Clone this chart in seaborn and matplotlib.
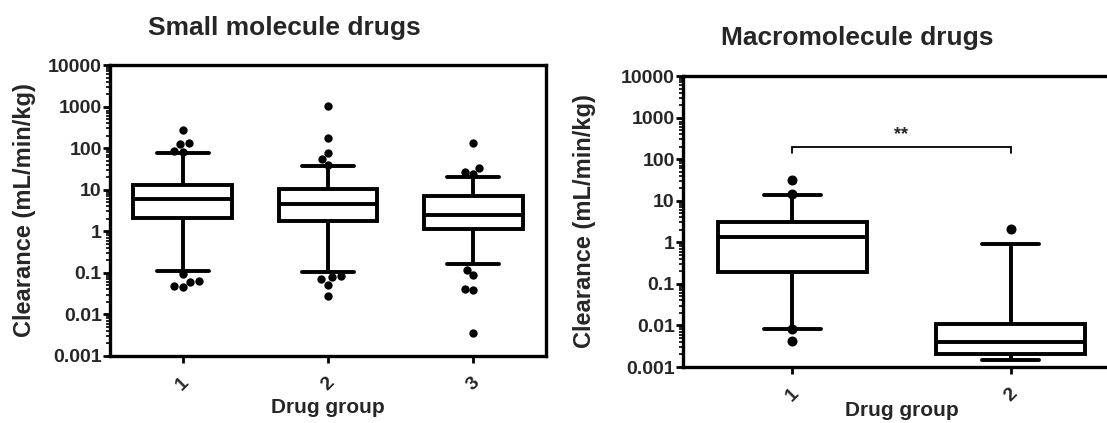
import numpy as np
import pandas as pd
import matplotlib
matplotlib.use("Agg")
import matplotlib.pyplot as plt
import seaborn as sns
from matplotlib.ticker import FixedLocator, FixedFormatter, LogLocator, NullFormatter

# ---------------- data ----------------
small_groups = ["1", "2", "3"]
small_q1 = [2.1, 1.8, 1.15]
small_median = [6.0, 4.6, 2.5]
small_q3 = [13.0, 10.5, 7.2]
small_whisker_low = [0.11, 0.105, 0.16]
small_whisker_high = [78, 38, 20]
small_outliers_1 = [275, 132, 128, 85, 82, 0.095, 0.060, 0.046, 0.049, 0.062]
small_outliers_2 = [1050, 175, 75, 55, 40, 0.085, 0.070, 0.052, 0.078, 0.028]
small_outliers_3 = [135, 34, 26, 24, 0.12, 0.088, 0.042, 0.038, 0.0035]

macro_groups = ["1", "2"]
macro_q1 = [0.19, 0.0021]
macro_median = [1.36, 0.0041]
macro_q3 = [3.0, 0.0106]
macro_whisker_low = [0.0083, 0.00148]
macro_whisker_high = [14, 0.89]
macro_outliers_1 = [32, 14.5, 0.0081, 0.0043]
macro_outliers_2 = [2.1]

y_ticks = [0.001, 0.01, 0.1, 1, 10, 100, 1000, 10000]
y_tick_labels = ["0.001", "0.01", "0.1", "1", "10", "100", "1000", "10000"]
sig_label = "**"
sig_y = 200
sig_drop = 140
sig_text_y = 400

title_small = "Small molecule drugs"
title_macro = "Macromolecule drugs"
x_label = "Drug group"
y_label = "Clearance (mL/min/kg)"

# ---------------- style ----------------
sns.set_theme(style="ticks")
plt.rcParams["font.family"] = ["Liberation Sans", "DejaVu Sans"]
plt.rcParams["font.weight"] = "bold"
plt.rcParams["axes.labelweight"] = "bold"

W, H = 1107, 423
fig = plt.figure(figsize=(W / 100, H / 100), dpi=100)

LW = 2.8


def panel(ax, groups, q1, med, q3, wlo, whi, outliers, capw, dot):
    ax.set_yscale("log")
    df = pd.DataFrame({
        "group": [g for g, vals in zip(groups, outliers) for _ in vals],
        "clearance": [v for vals in outliers for v in vals],
    })
    sns.swarmplot(data=df, x="group", y="clearance", order=groups,
                  color="black", size=dot, ax=ax, zorder=5, linewidth=0)
    stats = [dict(q1=a, med=m, q3=b, whislo=lo, whishi=hi, fliers=[])
             for a, m, b, lo, hi in zip(q1, med, q3, wlo, whi)]
    ax.bxp(stats, positions=list(range(len(groups))), widths=0.68,
           capwidths=capw, showfliers=False, patch_artist=True,
           manage_ticks=False,
           boxprops=dict(facecolor="white", edgecolor="black", linewidth=LW),
           whiskerprops=dict(color="black", linewidth=LW, solid_capstyle="butt"),
           capprops=dict(color="black", linewidth=LW, solid_capstyle="round"),
           medianprops=dict(color="black", linewidth=LW, solid_capstyle="butt"))
    ax.set_xlim(-0.5, len(groups) - 0.5)
    ax.set_ylim(0.001, 10000)
    ax.yaxis.set_major_locator(FixedLocator(y_ticks))
    ax.yaxis.set_major_formatter(FixedFormatter(y_tick_labels))
    ax.yaxis.set_minor_locator(LogLocator(base=10, subs=np.arange(2, 10), numticks=30))
    ax.yaxis.set_minor_formatter(NullFormatter())
    ax.set_xticks(range(len(groups)))
    ax.set_xticklabels(groups, rotation=45, ha="center", fontsize=14, fontweight="bold")
    for lab in ax.get_yticklabels():
        lab.set_fontsize(14)
        lab.set_fontweight("bold")
    ax.tick_params(axis="y", which="major", direction="out", length=5, width=2.0,
                   color="black", pad=1)
    ax.tick_params(axis="y", which="minor", direction="out", length=3, width=1.2,
                   color="black")
    ax.tick_params(axis="x", which="major", direction="out", length=5, width=2.0,
                   color="black", pad=8)
    ax.tick_params(axis="x", which="minor", length=0)
    for s in ax.spines.values():
        s.set_linewidth(2.4)
        s.set_color("black")
    ax.set_xlabel(x_label, fontsize=15, fontweight="bold")
    ax.set_ylabel(y_label, fontsize=17, fontweight="bold")
    ax.xaxis.label.set_va("top")
    ax.grid(False)


# left panel
axL = fig.add_axes([110 / W, 1 - 356 / H, 436 / W, 291 / H])
panel(axL, small_groups, small_q1, small_median, small_q3,
      small_whisker_low, small_whisker_high,
      [small_outliers_1, small_outliers_2, small_outliers_3], 0.36, 6.0)
axL.xaxis.set_label_coords(0.5, -(398 - 356) / 291)
axL.yaxis.set_label_coords((36 - 110) / 436, 0.5)

# right panel
axR = fig.add_axes([683 / W, 1 - 367 / H, 437 / W, 291 / H])
panel(axR, macro_groups, macro_q1, macro_median, macro_q3,
      macro_whisker_low, macro_whisker_high,
      [macro_outliers_1, macro_outliers_2], 0.26, 7.2)
axR.xaxis.set_label_coords(0.5, -(401 - 367) / 291)
axR.yaxis.set_label_coords((596 - 683) / 437, 0.5)
axR.spines["right"].set_visible(False)

# significance bracket
axR.plot([0, 0, 1, 1], [sig_drop, sig_y, sig_y, sig_drop], color="black",
         lw=1.3, solid_joinstyle="miter", zorder=4)
axR.text(0.5, sig_text_y, sig_label, ha="center", va="center",
         fontsize=13, fontweight="bold")

# titles
fig.text(284 / W, 1 - 35 / H, title_small, ha="center", va="baseline",
         fontsize=19, fontweight="bold")
fig.text(857 / W, 1 - 45 / H, title_macro, ha="center", va="baseline",
         fontsize=19, fontweight="bold")

fig.savefig("out.png", dpi=100)
